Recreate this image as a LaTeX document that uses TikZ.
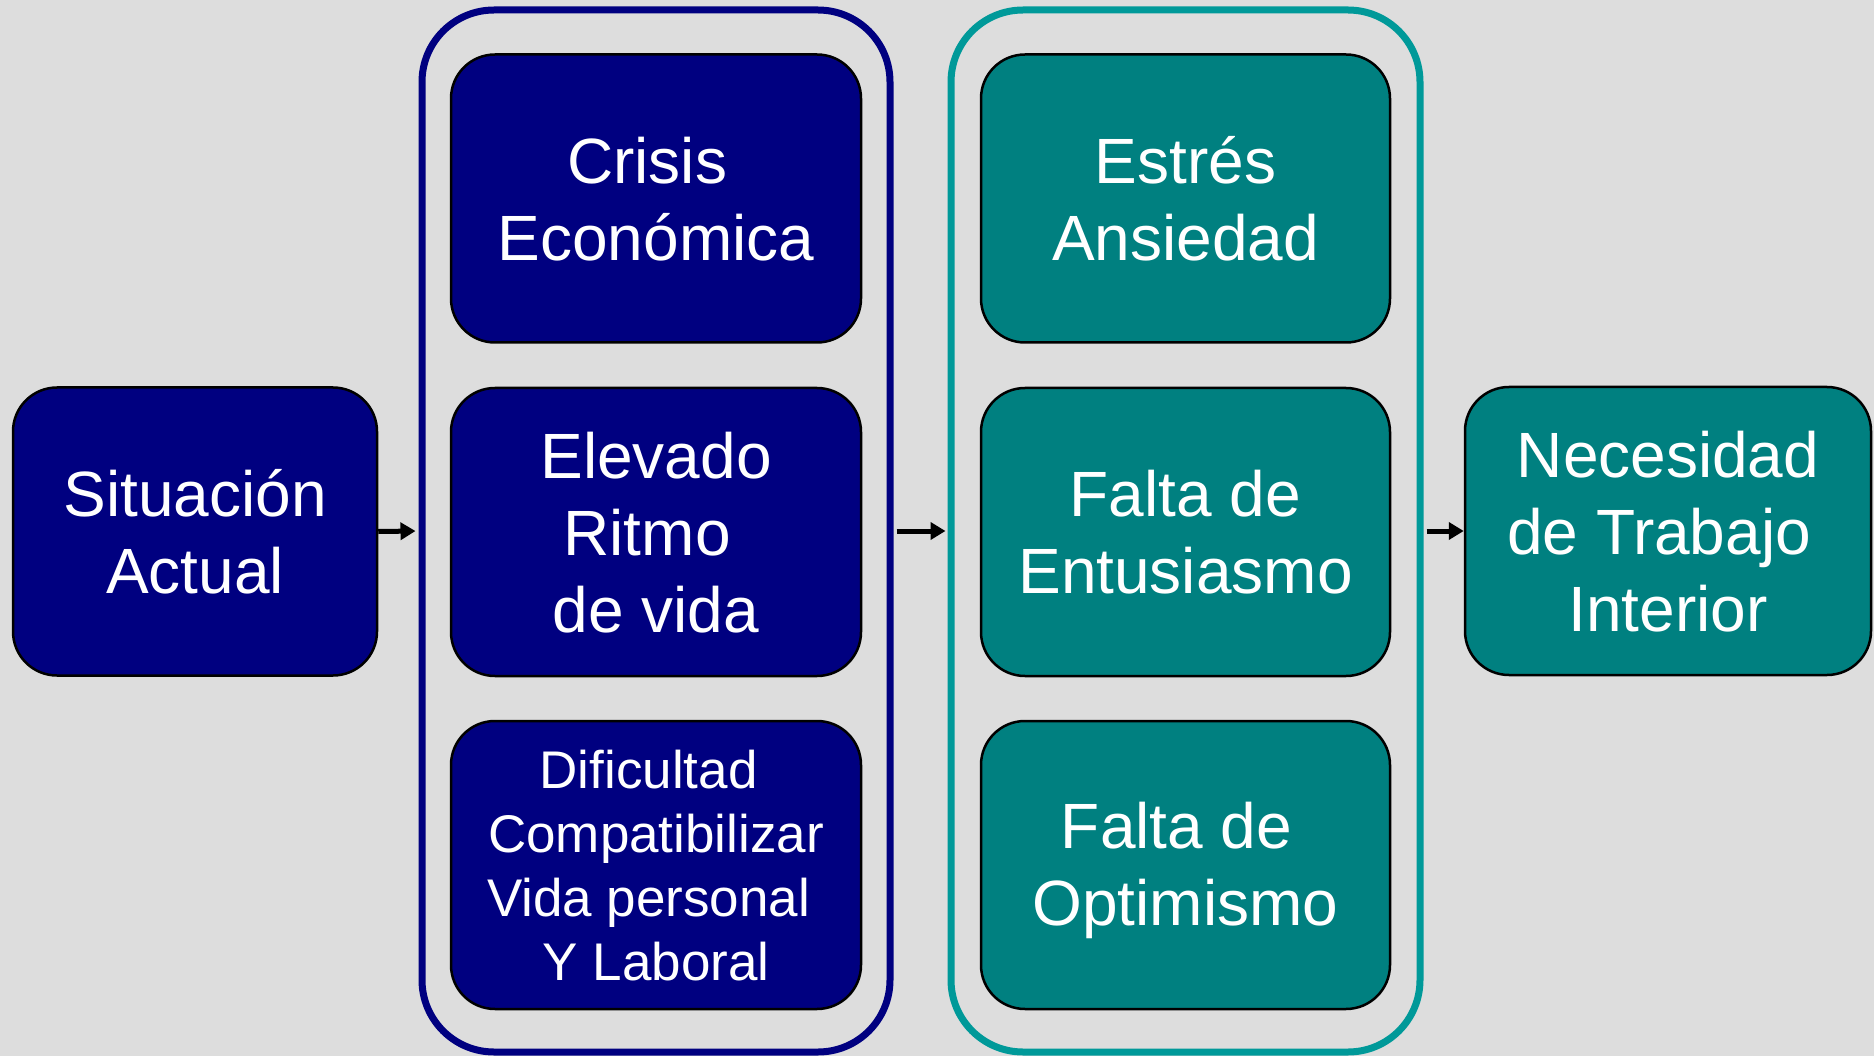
\documentclass[tikz,border=0pt]{standalone}
\usepackage{fontspec}
\setmainfont{Liberation Sans}
\usetikzlibrary{arrows.meta}
\definecolor{bg}{HTML}{DDDDDD}
\definecolor{navyc}{HTML}{000080}
\definecolor{tealc}{HTML}{008080}
\definecolor{tealline}{HTML}{009999}
\newcommand\lst{\rule[-0.16em]{0pt}{1.04em}}
\newcommand\tsp{\kern0.278em}
\tikzset{
  boxbase/.style={draw=black, line width=2.5pt, rounded corners=44pt, inner sep=0pt,
    text=white, align=center, minimum height=288pt},
  navybox/.style={boxbase, fill=navyc},
  tealbox/.style={boxbase, fill=tealc},
  bigtext/.style={font=\fontsize{64}{77}\selectfont},
  smalltext/.style={font=\fontsize{53}{64}\selectfont},
  grpbox/.style={line width=7pt, rounded corners=72pt, inner sep=0pt, minimum height=1042pt},
  flow/.style={line width=5pt, -{Triangle[length=15pt,width=17pt]}}
}
\begin{document}
\begin{tikzpicture}[x=1pt,y=-1pt]
\useasboundingbox (0,0) rectangle (1874,1056);
\fill[bg] (0,0) rectangle (1874,1056);

% group containers
\node[grpbox, draw=navyc, minimum width=468pt] (grpA) at (656,531) {};
\node[grpbox, draw=tealline, minimum width=469pt] (grpB) at (1185.5,531) {};

% left box
\node[navybox, bigtext, minimum width=364pt] (sit) at (195,531.5)
  {\lst Situación\\\lst Actual};

% navy column
\node[navybox, bigtext, minimum width=410pt] (crisis) at (656,198.5)
  {\lst Crisis\tsp\\\lst Económica};
\node[navybox, bigtext, minimum width=410pt] (ritmo) at (656,532)
  {\lst Elevado\\\lst Ritmo\tsp\\\lst de vida};
\node[navybox, smalltext, minimum width=410pt] (dific) at (656,865)
  {\lst Dificultad\tsp\\\lst Compatibilizar\\\lst Vida personal\tsp\\\lst Y Laboral};

% teal column
\node[tealbox, bigtext, minimum width=409pt] (estres) at (1185.5,198.5)
  {\lst Estrés\\\lst Ansiedad};
\node[tealbox, bigtext, minimum width=409pt] (entus) at (1185.5,532)
  {\lst Falta de\\\lst Entusiasmo};
\node[tealbox, bigtext, minimum width=409pt] (optim) at (1185.5,865)
  {\lst Falta de\tsp\\\lst Optimismo};

% right box
\node[tealbox, bigtext, minimum width=406pt] (nec) at (1668,531)
  {\lst Necesidad\\\lst de Trabajo\tsp\\\lst Interior};

% arrows
\draw[flow, shorten >=3pt] (sit.east) -- (grpA.west);
\draw[flow, shorten <=3pt, shorten >=2pt] (grpA.east) -- (grpB.west);
\draw[flow, shorten <=3pt, shorten >=0pt] (grpB.east) -- (nec.west);
\end{tikzpicture}
\end{document}
